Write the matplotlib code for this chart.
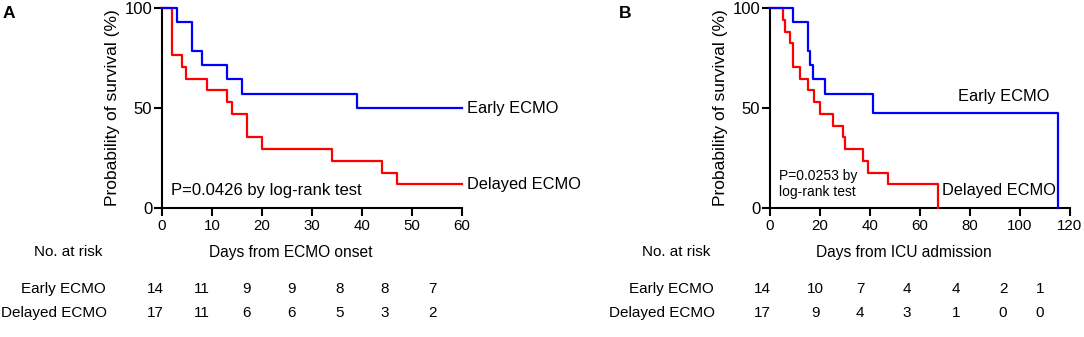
import matplotlib
matplotlib.use("Agg")
import matplotlib.pyplot as plt

plt.rcParams['font.family'] = ['Liberation Sans', 'DejaVu Sans']

# ---- data: Kaplan-Meier step knots (days, survival %) ----
a_early_t = [0, 3, 6, 8, 13, 16, 39, 60]
a_early_s = [100, 92.9, 78.6, 71.4, 64.3, 57.1, 50.0, 50.0]
a_delayed_t = [0, 2, 4, 4.7, 9, 13, 14, 17, 20, 34, 44, 47, 60]
a_delayed_s = [100, 76.5, 70.6, 64.7, 58.8, 52.9, 47.1, 35.3, 29.4, 23.5, 17.6, 11.8, 11.8]

b_early_t = [0, 9, 15, 16, 17, 22, 41, 115]
b_early_s = [100, 92.9, 78.6, 71.4, 64.3, 57.1, 47.6, 0]
b_delayed_t = [0, 5, 6, 8, 9, 12, 15, 17.5, 20, 25, 29, 30, 37, 39, 47, 67]
b_delayed_s = [100, 94.1, 88.2, 82.4, 70.6, 64.7, 58.8, 52.9, 47.1, 41.2, 35.3, 29.4, 23.5, 17.6, 11.8, 0]

# numbers at risk
a_risk_early = [14, 11, 9, 9, 8, 8, 7]
a_risk_delayed = [17, 11, 6, 6, 5, 3, 2]
b_risk_early = [14, 10, 7, 4, 4, 2, 1]
b_risk_delayed = [17, 9, 4, 3, 1, 0, 0]

a_xticks = [0, 10, 20, 30, 40, 50, 60]
b_xticks = [0, 20, 40, 60, 80, 100, 120]
yticks = [0, 50, 100]

# ---- layout (pixels) ----
W, H = 1084, 337
fig = plt.figure(figsize=(W / 100, H / 100), dpi=100)


def fx(x):
    return x / W


def fy(y):
    return 1 - y / H


def panel(left, xmax, xticks, early_t, early_s, delayed_t, delayed_s):
    ax = fig.add_axes([fx(left), fy(208), 300 / W, 200 / H])
    ax.step(delayed_t, delayed_s, where='post', color='#ff0000', lw=1.6, clip_on=False, zorder=3)
    ax.step(early_t, early_s, where='post', color='#0000ff', lw=1.6, clip_on=False, zorder=4)
    ax.set_xlim(0, xmax)
    ax.set_ylim(0, 100)
    ax.set_xticks(xticks)
    ax.set_yticks(yticks)
    for s in ['top', 'right']:
        ax.spines[s].set_visible(False)
    for s in ['left', 'bottom']:
        ax.spines[s].set_linewidth(1.5)
    ax.tick_params(axis='both', width=1.5, length=6, direction='out')
    ax.tick_params(axis='x', labelsize=10.8, pad=2)
    ax.tick_params(axis='y', labelsize=12, pad=1)
    ax.set_ylabel('Probability of survival (%)', fontsize=12.5, labelpad=3)
    return ax


axA = panel(162, 60, a_xticks, a_early_t, a_early_s, a_delayed_t, a_delayed_s)
axB = panel(770, 120, b_xticks, b_early_t, b_early_s, b_delayed_t, b_delayed_s)

# curve labels and p-values
fig.text(fx(467), fy(108), 'Early ECMO', fontsize=11.8, va='center', ha='left')
fig.text(fx(467), fy(184), 'Delayed ECMO', fontsize=11.8, va='center', ha='left')
fig.text(fx(171), fy(191), 'P=0.0426 by log-rank test', fontsize=12, va='center', ha='left')

fig.text(fx(958), fy(96), 'Early ECMO', fontsize=11.8, va='center', ha='left')
fig.text(fx(942), fy(190), 'Delayed ECMO', fontsize=11.8, va='center', ha='left')
fig.text(fx(779), fy(184), 'P=0.0253 by\nlog-rank test', fontsize=10, va='center', ha='left',
         linespacing=1.15)

# panel letters
fig.text(fx(3), fy(13), 'A', fontsize=12.5, fontweight='bold', va='center', ha='left')
fig.text(fx(619), fy(13), 'B', fontsize=12.5, fontweight='bold', va='center', ha='left')

# x-axis labels
fig.text(fx(291), fy(252), 'Days from ECMO onset', fontsize=11.2, va='center', ha='center')
fig.text(fx(904), fy(252), 'Days from ICU admission', fontsize=11.2, va='center', ha='center')

# risk tables
a_cols = [155, 202, 246.5, 291.7, 340, 384.5, 432.7]
b_cols = [762, 815, 860, 907, 956, 1003, 1040]


def risk_table(label_right, cols, early, delayed):
    fig.text(fx(label_right - 4), fy(252), 'No. at risk', fontsize=11, va='center', ha='right')
    fig.text(fx(label_right), fy(289), 'Early ECMO', fontsize=11, va='center', ha='right')
    fig.text(fx(label_right + 1), fy(313), 'Delayed ECMO', fontsize=11, va='center', ha='right')
    for c, n in zip(cols, early):
        fig.text(fx(c), fy(289), str(n), fontsize=11, va='center', ha='center')
    for c, n in zip(cols, delayed):
        fig.text(fx(c), fy(313), str(n), fontsize=11, va='center', ha='center')


risk_table(106, a_cols, a_risk_early, a_risk_delayed)
risk_table(714, b_cols, b_risk_early, b_risk_delayed)

fig.savefig('out.png', dpi=100)
